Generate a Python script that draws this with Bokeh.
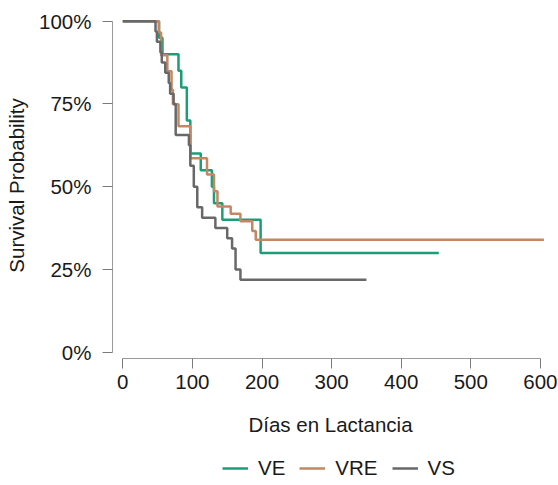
from bokeh.plotting import figure
from bokeh.layouts import column
from bokeh.models import Legend, LegendItem, FixedTicker, NumeralTickFormatter, Range1d
from bokeh.embed import file_html
from bokeh.resources import INLINE

# ---- data ----
ve_days = [0, 52, 57, 80, 84, 92, 97, 112, 128, 131, 143, 198, 454]
ve_surv = [1.00, 0.95, 0.90, 0.85, 0.80, 0.70, 0.60, 0.55, 0.50, 0.45, 0.40, 0.30, 0.30]

vre_days = [0, 52, 55, 64, 70, 72, 80, 97, 121, 131, 136, 155, 169, 186, 191, 605]
vre_surv = [1.00, 0.966, 0.897, 0.849, 0.793, 0.749, 0.683, 0.586, 0.537, 0.486, 0.440, 0.418,
            0.396, 0.366, 0.340, 0.340]

vs_days = [0, 47, 49, 54, 56, 61, 66, 68, 73, 76, 95, 97, 102, 107, 114, 133, 150, 157, 162, 169, 350]
vs_surv = [1.00, 0.969, 0.938, 0.906, 0.875, 0.844, 0.813, 0.781, 0.750, 0.656, 0.625, 0.563,
           0.500, 0.438, 0.406, 0.375, 0.344, 0.313, 0.250, 0.219, 0.219]

series_names = ["VE", "VRE", "VS"]
series_colors = ["#1b9e77", "#c38763", "#686868"]

x_ticks = [0, 100, 200, 300, 400, 500, 600]
y_ticks = [0, 0.25, 0.5, 0.75, 1.0]

FONT = "Liberation Sans"
FS = "20.5px"

p = figure(width=558, height=440, output_backend="svg", toolbar_location=None,
           x_range=Range1d(-14.8, 611.6), y_range=Range1d(-0.019, 1.0263),
           min_border_left=112, min_border_right=10, min_border_top=12, min_border_bottom=82)
p.outline_line_color = None
p.xgrid.visible = False
p.ygrid.visible = False

for d, s, c in zip([ve_days, vre_days, vs_days], [ve_surv, vre_surv, vs_surv], series_colors):
    p.step(d, s, mode="after", line_color=c, line_width=2.5)

for ax in (p.xaxis[0], p.yaxis[0]):
    ax.axis_line_color = "#9a9a9a"
    ax.major_tick_line_color = "#7a7a7a"
    ax.major_tick_out = 10
    ax.major_tick_in = 0
    ax.minor_tick_line_color = None
    ax.major_label_text_font = FONT
    ax.major_label_text_font_size = FS
    ax.major_label_text_color = "#1a1a1a"
    ax.axis_label_text_font = FONT
    ax.axis_label_text_font_size = FS
    ax.axis_label_text_font_style = "normal"
    ax.axis_label_text_color = "#1a1a1a"

p.xaxis[0].ticker = FixedTicker(ticks=x_ticks)
p.xaxis[0].bounds = (0, 600)
p.xaxis[0].axis_label = "Días en Lactancia"
p.xaxis[0].major_label_standoff = 6
p.xaxis[0].axis_label_standoff = 21

p.yaxis[0].ticker = FixedTicker(ticks=y_ticks)
p.yaxis[0].bounds = (0, 1)
p.yaxis[0].formatter = NumeralTickFormatter(format="0%")
p.yaxis[0].axis_label = "Survival Probability"
p.yaxis[0].major_label_standoff = 11
p.yaxis[0].axis_label_standoff = 8

# ---- legend strip below the plot (frames are aligned with the main plot) ----
lg = figure(width=558, height=44, output_backend="svg", toolbar_location=None,
            x_range=Range1d(0, 1), y_range=Range1d(0, 1),
            min_border_left=112, min_border_right=10, min_border_top=0, min_border_bottom=0)
lg.outline_line_color = None
lg.axis.visible = False
lg.xgrid.visible = False
lg.ygrid.visible = False
items = []
for n, c in zip(series_names, series_colors):
    r = lg.line(x=[-5, -4], y=[-5, -5], line_color=c, line_width=2.5)
    items.append(LegendItem(label=n, renderers=[r]))
legend = Legend(items=items, orientation="horizontal", location=(110, 4))
legend.label_text_font = FONT
legend.label_text_font_size = FS
legend.label_text_color = "#1a1a1a"
legend.glyph_width = 26
legend.glyph_height = 20
legend.label_height = 20
legend.label_standoff = 10
legend.spacing = 14
legend.border_line_color = None
legend.background_fill_alpha = 0
legend.margin = 0
legend.padding = 0
lg.add_layout(legend, "center")

open("out.html", "w").write(file_html(column(p, lg, spacing=0), INLINE))
